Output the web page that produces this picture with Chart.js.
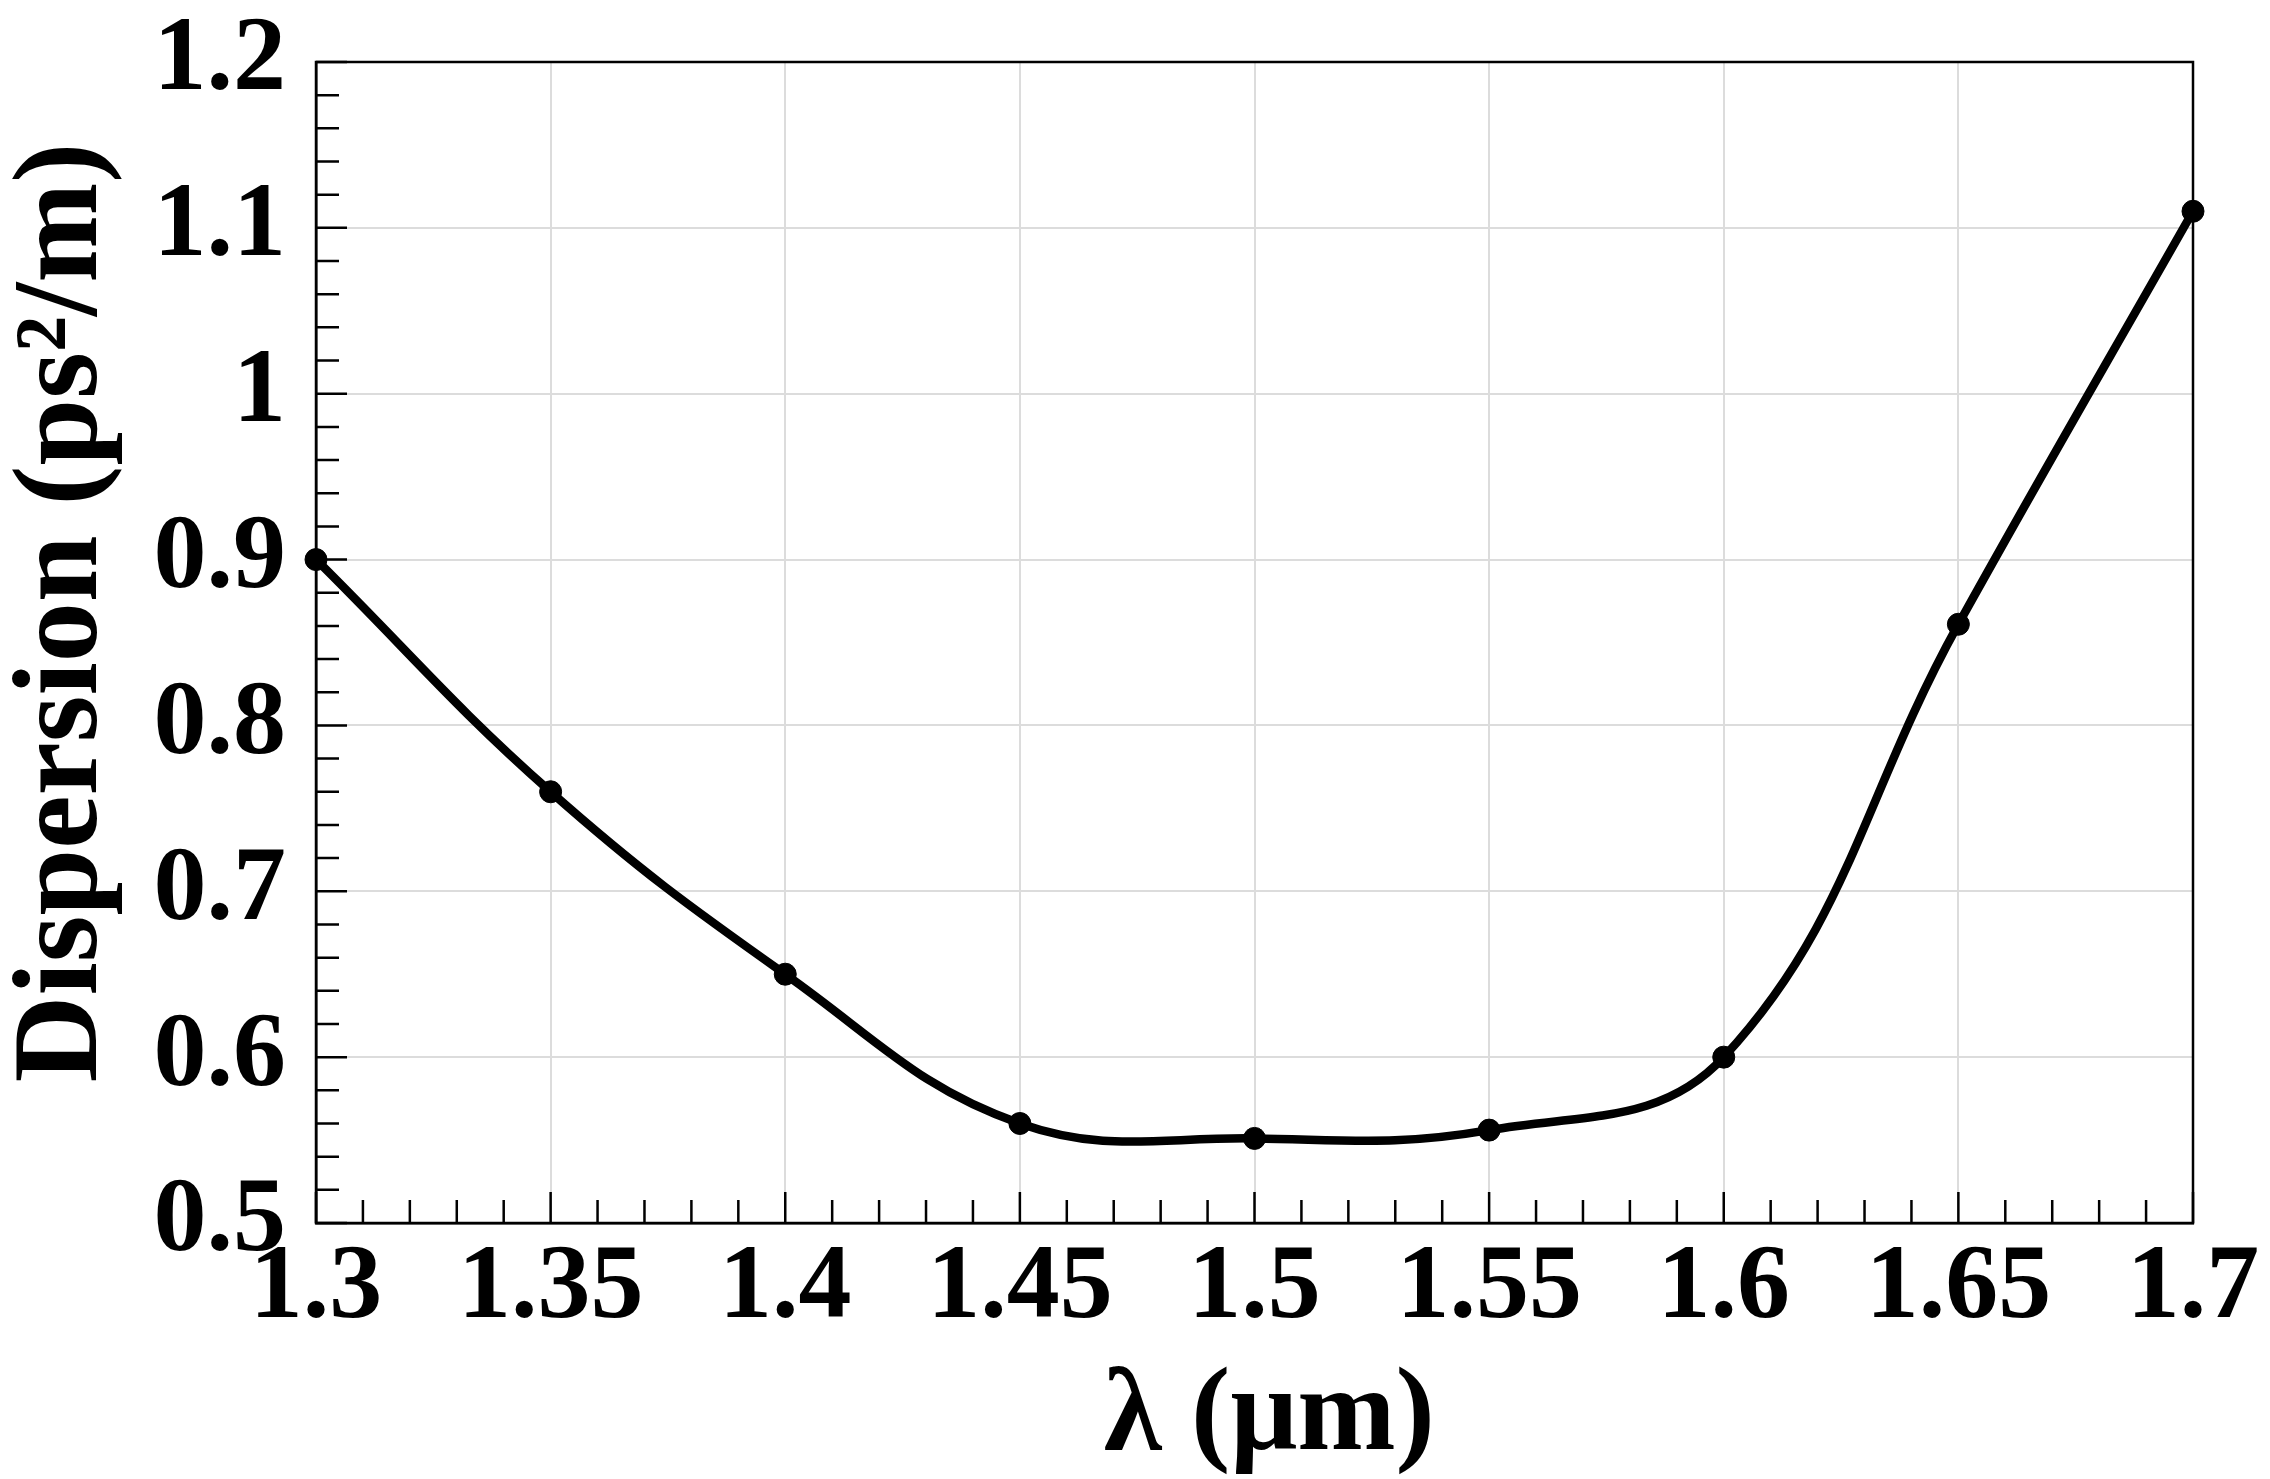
<!DOCTYPE html>
<html><head><meta charset="utf-8">
<script src="https://cdn.jsdelivr.net/npm/chart.js@4"></script>
<style>html,body{margin:0;padding:0;background:#fff;}canvas{display:block;}</style>
</head><body>
<canvas id="c" width="2270" height="1479"></canvas>
<script>
const wavelengths = [1.3, 1.35, 1.4, 1.45, 1.5, 1.55, 1.6, 1.65, 1.7];
const dispersion  = [0.9, 0.76, 0.65, 0.56, 0.551, 0.556, 0.6, 0.861, 1.11];
const xTickValues = [1.3, 1.35, 1.4, 1.45, 1.5, 1.55, 1.6, 1.65, 1.7];
const xTickLabels = ['1.3', '1.35', '1.4', '1.45', '1.5', '1.55', '1.6', '1.65', '1.7'];
const yTickValues = [0.5, 0.6, 0.7, 0.8, 0.9, 1, 1.1, 1.2];
const yTickLabels = ['0.5', '0.6', '0.7', '0.8', '0.9', '1', '1.1', '1.2'];
const xMinorStep = 0.01;
const yMinorStep = 0.02;
const xTitle = 'λ (μm)';
const yTitle = 'Dispersion (ps²/m)';

const FONT = 'Liberation Serif';

const framePlugin = {
  id: 'frameTicks',
  beforeDatasetsDraw(chart) {
    const { ctx, chartArea: a, scales: { x, y } } = chart;
    ctx.save();
    ctx.strokeStyle = '#000';
    ctx.lineWidth = 2.5;
    ctx.beginPath();
    const nx = Math.round((x.max - x.min) / xMinorStep);
    for (let i = 0; i <= nx; i++) {
      const px = x.getPixelForValue(x.min + i * xMinorStep);
      const len = i % 5 === 0 ? 31 : 23;
      ctx.moveTo(px, a.bottom);
      ctx.lineTo(px, a.bottom - len);
    }
    const ny = Math.round((y.max - y.min) / yMinorStep);
    for (let i = 0; i <= ny; i++) {
      const py = y.getPixelForValue(y.min + i * yMinorStep);
      const len = i % 5 === 0 ? 31 : 23;
      ctx.moveTo(a.left, py);
      ctx.lineTo(a.left + len, py);
    }
    ctx.stroke();
    ctx.strokeRect(a.left, a.top, a.right - a.left, a.bottom - a.top);
    ctx.restore();
  }
};

new Chart(document.getElementById('c'), {
  type: 'line',
  data: {
    datasets: [{
      data: wavelengths.map((w, i) => ({ x: w, y: dispersion[i] })),
      borderColor: '#000',
      backgroundColor: '#000',
      borderWidth: 8.5,
      pointRadius: 11,
      pointBackgroundColor: '#000',
      pointBorderColor: '#000',
      pointBorderWidth: 1,
      tension: 0.4,
      fill: false,
      clip: false
    }]
  },
  options: {
    responsive: false,
    animation: false,
    devicePixelRatio: 1,
    layout: { padding: { top: 62, right: 77, left: 0, bottom: 0 } },
    plugins: { legend: { display: false }, tooltip: { enabled: false } },
    scales: {
      x: {
        type: 'linear', min: 1.3, max: 1.7,
        afterBuildTicks: s => { s.ticks = xTickValues.map(v => ({ value: v })); },
        afterFit: s => { s.height = 256; },
        ticks: {
          callback: (v, i) => xTickLabels[i],
          font: { family: FONT, weight: 'bold', size: 106, lineHeight: 1.1 },
          color: '#000', padding: 8, maxRotation: 0, autoSkip: false
        },
        grid: { color: '#dcdcdc', lineWidth: 2, drawTicks: false },
        border: { color: '#000', width: 2.5 },
        title: {
          display: true, text: ' ' + xTitle, color: '#000',
          font: { family: FONT, weight: 'bold', size: 118, lineHeight: 1 },
          padding: { top: 0, bottom: 1 }
        }
      },
      y: {
        type: 'linear', min: 0.5, max: 1.2,
        afterBuildTicks: s => { s.ticks = yTickValues.map(v => ({ value: v })); },
        afterFit: s => { s.width = 316; },
        ticks: {
          callback: (v, i) => yTickLabels[i],
          font: { family: FONT, weight: 'bold', size: 106, lineHeight: 0.5 },
          color: '#000', padding: 30, autoSkip: false
        },
        grid: { color: '#dcdcdc', lineWidth: 2, drawTicks: false },
        border: { color: '#000', width: 2.5 },
        title: {
          display: true, text: '  ' + yTitle, color: '#000',
          font: { family: FONT, weight: 'bold', size: 120, lineHeight: 1 },
          padding: { top: 5, bottom: 0 }
        }
      }
    }
  },
  plugins: [framePlugin]
});
</script>
</body></html>
